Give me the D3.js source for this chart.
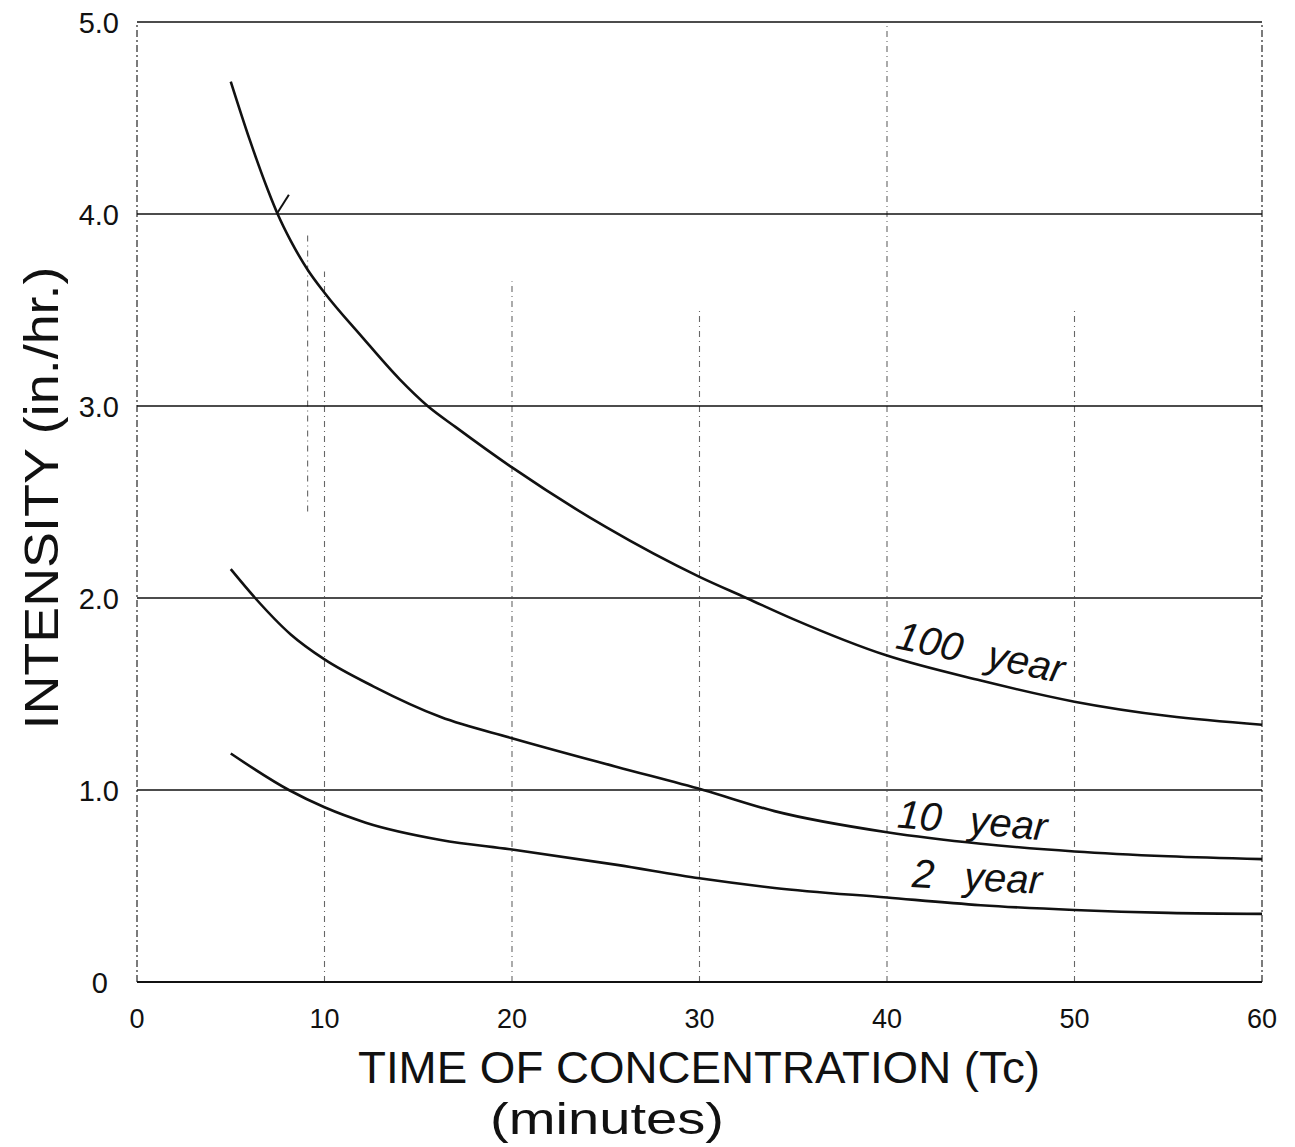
<!DOCTYPE html>
<html>
<head>
<meta charset="utf-8">
<script src="https://cdn.jsdelivr.net/npm/d3@7"></script>
<style>
  body { margin: 0; background: #fff; }
  text { font-family: "Liberation Sans", Arial, sans-serif; fill: #111; }
</style>
</head>
<body>
<main></main>
<script>
// data
const t100 = [5, 6, 7, 7.5, 8.2, 9.1, 10, 12, 14, 15.5, 17, 20, 25, 30, 32.5, 35, 40, 45, 50, 55, 60];
const i100 = [4.69, 4.39, 4.12, 4.0, 3.86, 3.71, 3.59, 3.36, 3.14, 3.0, 2.89, 2.68, 2.37, 2.11, 2.0, 1.89, 1.70, 1.57, 1.46, 1.385, 1.34];

const t10 = [5, 6.3, 8.2, 10, 12.6, 16.2, 20, 25.6, 30.2, 34, 40, 45, 50, 55, 60];
const i10 = [2.15, 2.0, 1.81, 1.68, 1.54, 1.38, 1.27, 1.12, 1.0, 0.89, 0.78, 0.72, 0.68, 0.655, 0.64];

const t2 = [5, 8.1, 10, 12.2, 16.2, 20, 25.6, 30, 34, 40, 45, 50, 55, 60];
const i2 = [1.19, 1.0, 0.91, 0.83, 0.74, 0.69, 0.61, 0.54, 0.49, 0.44, 0.40, 0.375, 0.36, 0.355];

const xTicks = [0, 10, 20, 30, 40, 50, 60];
const yTicks = [0, 1, 2, 3, 4, 5];
const yTickLabels = ["0", "1.0", "2.0", "3.0", "4.0", "5.0"];

// vertical grid segments as drawn on the sheet: [minutes, from, to]
const vGrid = [[0, 0, 5], [9.1, 2.45, 3.9], [10, 0, 3.7], [20, 0, 3.65], [30, 0, 3.5], [40, 0, 5], [50, 0, 3.5], [60, 0, 5]];

// pen mark at the 4.0 crossing
const checkMark = [[7.45, 4.0], [8.1, 4.1]];

const series = [
  { name: "100 year", t: t100, v: i100 },
  { name: "10 year", t: t10, v: i10 },
  { name: "2 year", t: t2, v: i2 }
];

const margin = { top: 22, left: 137, right: 33, bottom: 165 };
const W = 1295, H = 1147;

const x = d3.scaleLinear().domain([0, 60]).range([margin.left, W - margin.right]);
const y = d3.scaleLinear().domain([0, 5]).range([H - margin.bottom, margin.top]);

const svg = d3.select("main").append("svg")
  .attr("width", W).attr("height", H);

// vertical dashed lines
svg.append("g").selectAll("line").data(vGrid).join("line")
  .attr("x1", d => x(d[0])).attr("x2", d => x(d[0]))
  .attr("y1", d => y(d[1])).attr("y2", d => y(d[2]))
  .attr("stroke", d => (d[0] === 0 || d[0] === 60) ? "#444" : "#666")
  .attr("stroke-width", d => (d[0] === 0 || d[0] === 60) ? 1.4 : 1.1)
  .attr("stroke-dasharray", d => (d[0] === 0 || d[0] === 60) ? "7,3,2,3" : "6,4,1,4");

// horizontal solid lines
svg.append("g").selectAll("line").data(yTicks).join("line")
  .attr("x1", x(0)).attr("x2", x(60))
  .attr("y1", d => y(d)).attr("y2", d => y(d))
  .attr("stroke", "#111")
  .attr("stroke-width", d => d === 0 ? 2.2 : 1.6);

// y tick labels
svg.append("g").selectAll("text").data(yTicks).join("text")
  .attr("x", d => d === 0 ? x(0) - 29 : x(0) - 18)
  .attr("y", d => y(d) + 11)
  .attr("text-anchor", "end")
  .attr("font-size", 29)
  .text((d, i) => yTickLabels[i]);

// x tick labels
svg.append("g").selectAll("text").data(xTicks).join("text")
  .attr("x", d => x(d))
  .attr("y", y(0) + 46)
  .attr("text-anchor", "middle")
  .attr("font-size", 27)
  .text(d => d);

// curves
const line = d3.line()
  .x(d => x(d[0])).y(d => y(d[1]))
  .curve(d3.curveMonotoneX);

svg.append("g").selectAll("path").data(series).join("path")
  .attr("d", s => line(s.t.map((t, i) => [t, s.v[i]])))
  .attr("fill", "none")
  .attr("stroke", "#111")
  .attr("stroke-width", 2.6);

svg.append("path")
  .attr("d", d3.line().x(d => x(d[0])).y(d => y(d[1]))(checkMark))
  .attr("fill", "none").attr("stroke", "#111").attr("stroke-width", 2);

// curve labels
const labels = [
  { num: "100", t: 40.4, v: 1.74, rot: 12, gap: 26 },
  { num: "10", t: 40.5, v: 0.805, rot: 5, gap: 28 },
  { num: "2", t: 41.3, v: 0.495, rot: 3, gap: 30 }
];
labels.forEach(l => {
  const g = svg.append("g")
    .attr("transform", `translate(${x(l.t)},${y(l.v)}) rotate(${l.rot})`);
  const txt = g.append("text")
    .attr("font-size", 40)
    .attr("font-style", "italic")
    .attr("font-weight", 300);
  txt.append("tspan").text(l.num);
  txt.append("tspan").attr("dx", l.gap).text("year");
});

// axis titles
svg.append("text")
  .attr("transform", `translate(58,${(y(0) + y(5)) / 2 - 4}) rotate(-90)`)
  .attr("text-anchor", "middle")
  .attr("font-size", 48)
  .attr("textLength", 463)
  .attr("lengthAdjust", "spacingAndGlyphs")
  .text("INTENSITY (in./hr.)");

svg.append("text")
  .attr("x", 358).attr("y", 1083)
  .attr("font-size", 45)
  .attr("textLength", 682)
  .attr("lengthAdjust", "spacingAndGlyphs")
  .text("TIME OF CONCENTRATION (Tc)");

svg.append("text")
  .attr("x", 490).attr("y", 1134)
  .attr("font-size", 44)
  .attr("textLength", 234)
  .attr("lengthAdjust", "spacingAndGlyphs")
  .text("(minutes)");
</script>
</body>
</html>
